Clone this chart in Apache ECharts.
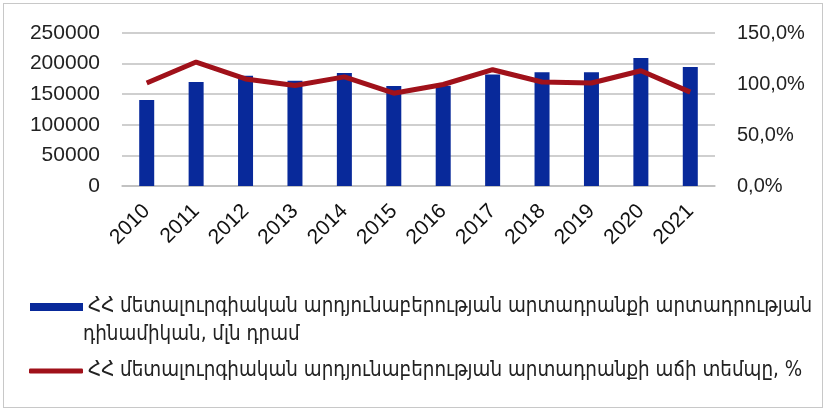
<!DOCTYPE html>
<html>
<head>
	<meta charset="UTF-8">
	<title>metallurgy</title>
	<script src="https://cdn.jsdelivr.net/npm/echarts@6/dist/echarts.min.js"></script>
	<style>
		html, body { margin: 0; padding: 0; background: #fff; }
		#box { position: absolute; left: 3px; top: 3px; width: 818px; height: 403px; border: 1px solid #c8c8c8; }
		#chart { position: absolute; left: 0; top: 0; width: 826px; height: 411px; }
	</style>
</head>
<body>
<div id="box"></div>
<div id="chart"></div>
<script type="text/javascript">
	// տարիներ
	var years = ['2010', '2011', '2012', '2013', '2014', '2015', '2016', '2017', '2018', '2019', '2020', '2021'];
	// արտադրություն, մլն դրամ
	var output = [140500, 170000, 180000, 172000, 184500, 163500, 164000, 182000, 186000, 186000, 209000, 194500];
	// աճի տեմպ, %
	var growth = [101, 121.5, 105, 98.5, 107, 91, 99.5, 114, 102, 101, 113, 92];

	var barName = 'ՀՀ մետալուրգիական արդյունաբերության արտադրանքի արտադրության';
	var barName2 = 'դինամիկան, մլն դրամ';
	var lineName = 'ՀՀ մետալուրգիական արդյունաբերության արտադրանքի աճի տեմպը, %';

	var font = 'DejaVu Sans Condensed';
	var axisFont = 'Liberation Sans';

	var myChart = echarts.init(document.getElementById('chart'));
	var option = {
		animation: false,
		grid: { left: 122, right: 111, top: 33, bottom: 225 },
		legend: [{
			left: 25,
			top: 292,
			itemWidth: 53,
			itemHeight: 8,
			icon: 'rect',
			textStyle: { fontFamily: font, fontSize: 20.4, color: '#222', lineHeight: 20 },
			data: [barName]
		}, {
			left: 24,
			top: 356,
			itemWidth: 54,
			itemHeight: 5,
			icon: 'roundRect',
			textStyle: { fontFamily: font, fontSize: 20.4, color: '#222', lineHeight: 20 },
			data: [lineName]
		}],
		graphic: [{
			type: 'text',
			left: 83,
			top: 325,
			style: { text: barName2, font: '20.4px "' + font + '"', fill: '#222' }
		}],
		xAxis: {
			type: 'category',
			data: years,
			axisTick: { show: false },
			axisLine: { lineStyle: { color: '#bfbfbf', width: 1.5 } },
			axisLabel: { rotate: 45, interval: 0, fontFamily: axisFont, fontSize: 21, color: '#111', margin: 22 }
		},
		yAxis: [{
			type: 'value',
			min: 0,
			max: 250000,
			interval: 50000,
			axisLabel: {
				fontFamily: axisFont, fontSize: 21, color: '#222', margin: 22,
				formatter: function (v) { return String(v); }
			},
			splitLine: { lineStyle: { color: '#bfbfbf', width: 1.5 } }
		}, {
			type: 'value',
			min: 0,
			max: 150,
			interval: 50,
			axisLabel: {
				fontFamily: axisFont, fontSize: 20, color: '#222', margin: 22,
				formatter: function (v) { return v.toFixed(1).replace('.', ',') + '%'; }
			},
			splitLine: { show: false }
		}],
		series: [{
			name: barName,
			type: 'bar',
			data: output,
			barWidth: 15,
			itemStyle: { color: '#08299a' }
		}, {
			name: lineName,
			type: 'line',
			yAxisIndex: 1,
			data: growth,
			showSymbol: false,
			symbol: 'none',
			lineStyle: { color: '#a0111a', width: 5 },
			itemStyle: { color: '#a0111a' }
		}]
	};
	myChart.setOption(option);
</script>
</body>
</html>
